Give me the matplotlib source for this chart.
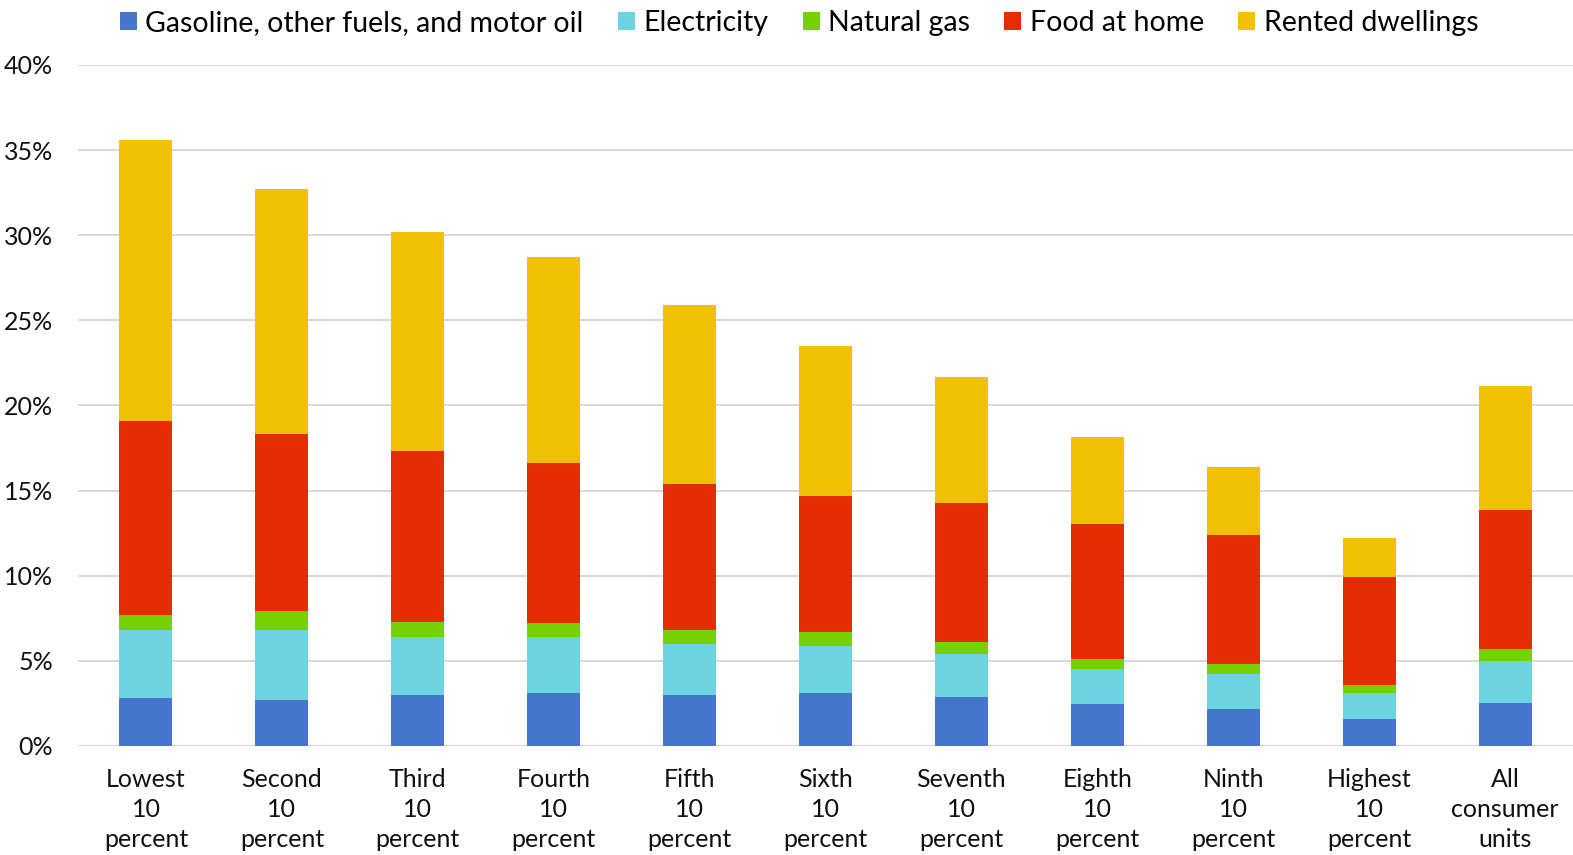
import numpy as np
import matplotlib.pyplot as plt
from matplotlib.ticker import PercentFormatter

plt.rcParams['font.family'] = ['Lato', 'DejaVu Sans']

groups = ['Lowest\n10\npercent', 'Second\n10\npercent', 'Third\n10\npercent',
          'Fourth\n10\npercent', 'Fifth\n10\npercent', 'Sixth\n10\npercent',
          'Seventh\n10\npercent', 'Eighth\n10\npercent', 'Ninth\n10\npercent',
          'Highest\n10\npercent', 'All\nconsumer\nunits']

# share of spending, percent
gasoline = [2.8, 2.7, 3.0, 3.1, 3.0, 3.1, 2.9, 2.45, 2.2, 1.6, 2.5]
electricity = [4.0, 4.1, 3.4, 3.3, 3.0, 2.8, 2.5, 2.05, 2.0, 1.5, 2.5]
natural_gas = [0.9, 1.1, 0.9, 0.8, 0.8, 0.8, 0.7, 0.6, 0.6, 0.5, 0.7]
food_home = [11.4, 10.4, 10.0, 9.4, 8.6, 8.0, 8.2, 7.95, 7.6, 6.3, 8.15]
rent = [16.5, 14.4, 12.9, 12.1, 10.5, 8.8, 7.4, 5.1, 4.0, 2.3, 7.3]

series = [
    ('Gasoline, other fuels, and motor oil', gasoline, '#4576CB'),
    ('Electricity', electricity, '#6CD3E0'),
    ('Natural gas', natural_gas, '#76D100'),
    ('Food at home', food_home, '#E52B00'),
    ('Rented dwellings', rent, '#F1C000'),
]

fig = plt.figure(figsize=(15.73, 8.55), dpi=100)
ax = fig.add_axes([0.0496, 0.1275, 0.9504, 0.7965])

x = np.arange(len(groups))
bottom = np.zeros(len(groups))
for name, vals, color in series:
    vals = np.array(vals)
    ax.bar(x, vals, 0.39, bottom=bottom, color=color, label=name, zorder=3)
    bottom += vals

ax.set_xlim(-0.5, len(groups) - 0.5)
ax.set_ylim(0, 40)
ax.set_yticks(np.arange(0, 41, 5))
ax.yaxis.set_major_formatter(PercentFormatter(decimals=0))
ax.grid(axis='y', color='#d9d9d9', linewidth=1.5, zorder=0)
ax.set_xticks(x)
ax.set_xticklabels(groups, fontsize=18, linespacing=1.37)
ax.tick_params(axis='both', length=0, labelsize=18, colors='#111111')
ax.tick_params(axis='x', pad=16)
ax.tick_params(axis='y', pad=18)
for s in ax.spines.values():
    s.set_visible(False)

fig.legend(loc='upper center', bbox_to_anchor=(0.508, 1.018), ncol=5, frameon=False,
           fontsize=20.5, handlelength=0.6, handleheight=0.6, handletextpad=0.3,
           columnspacing=1.2)

fig.savefig('out.png', dpi=100)
